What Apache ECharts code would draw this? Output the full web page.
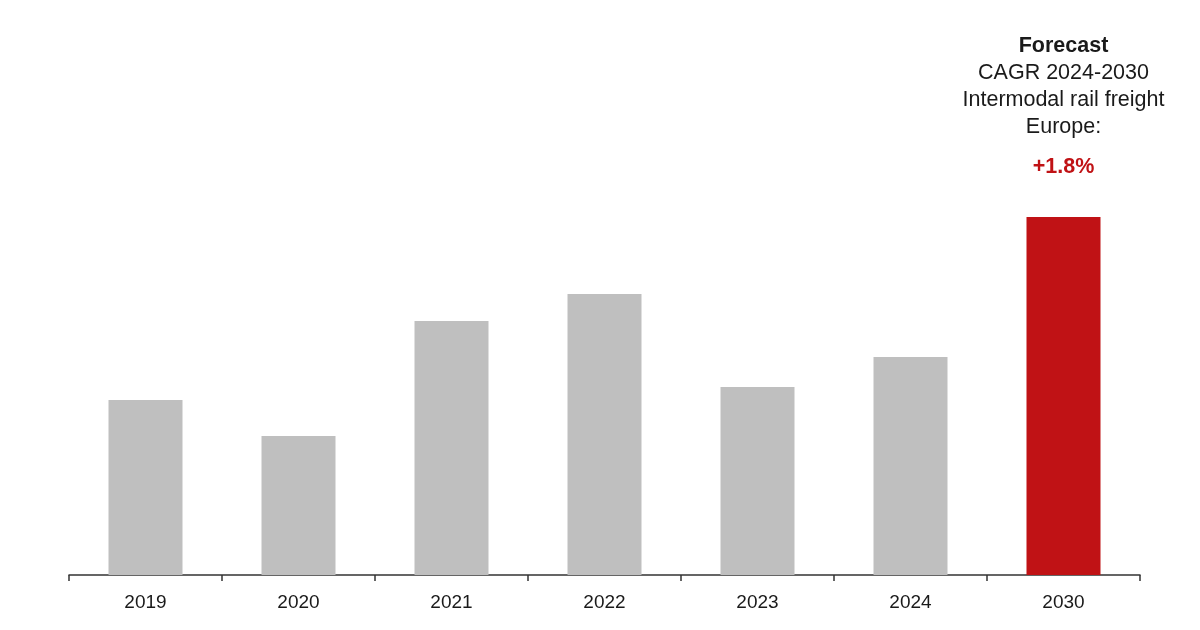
<!DOCTYPE html>
<html>
<head>
<meta charset="utf-8">
<script src="https://cdn.jsdelivr.net/npm/echarts@6/dist/echarts.min.js"></script>
<style>
html,body{margin:0;padding:0;background:#fff;}
#c{width:1200px;height:630px;}
</style>
</head>
<body>
<div id="c"></div>
<script>
const categories = ['2019','2020','2021','2022','2023','2024','2030'];
const values = [175, 139, 254, 281, 188, 218, 358];
const forecastIndex = 6;
const annotationLines = ['Forecast','CAGR 2024-2030','Intermodal rail freight','Europe:'];
const cagrText = '+1.8%';

const FONT = 'Liberation Sans, Arial, Helvetica, sans-serif';
const chart = echarts.init(document.getElementById('c'), null, {renderer:'canvas'});
const data = values.map((v,i)=>{
  if(i!==forecastIndex) return {value:v, itemStyle:{color:'#bfbfbf'}};
  return {
    value:v,
    itemStyle:{color:'#c01215'},
    label:{
      show:true,
      position:'top',
      distance:23,
      align:'center',
      formatter:'{b|'+annotationLines[0]+'}\n{n|'+annotationLines[1]+'}\n{n|'+annotationLines[2]+'}\n{n|'+annotationLines[3]+'}\n{r|'+cagrText+'}',
      rich:{
        b:{fontFamily:FONT,fontSize:21.5,fontWeight:'bold',color:'#1a1a1a',lineHeight:27,align:'center'},
        n:{fontFamily:FONT,fontSize:21.5,color:'#1a1a1a',lineHeight:27,align:'center'},
        r:{fontFamily:FONT,fontSize:21.5,fontWeight:'bold',color:'#c01215',lineHeight:53,align:'center'}
      }
    }
  };
});
chart.setOption({
  animation:false,
  backgroundColor:'#fff',
  grid:{left:69,right:60,top:175,bottom:55,containLabel:false},
  xAxis:{
    type:'category',
    data:categories,
    axisLine:{show:true,lineStyle:{color:'#333',width:1.5}},
    axisTick:{show:true,length:6,lineStyle:{color:'#333',width:1.5}},
    axisLabel:{color:'#1a1a1a',fontSize:19,fontFamily:FONT,margin:18}
  },
  yAxis:{type:'value',min:0,max:400,show:false,splitLine:{show:false}},
  series:[{
    type:'bar',
    data:data,
    barWidth:74
  }]
});
</script>
</body>
</html>
